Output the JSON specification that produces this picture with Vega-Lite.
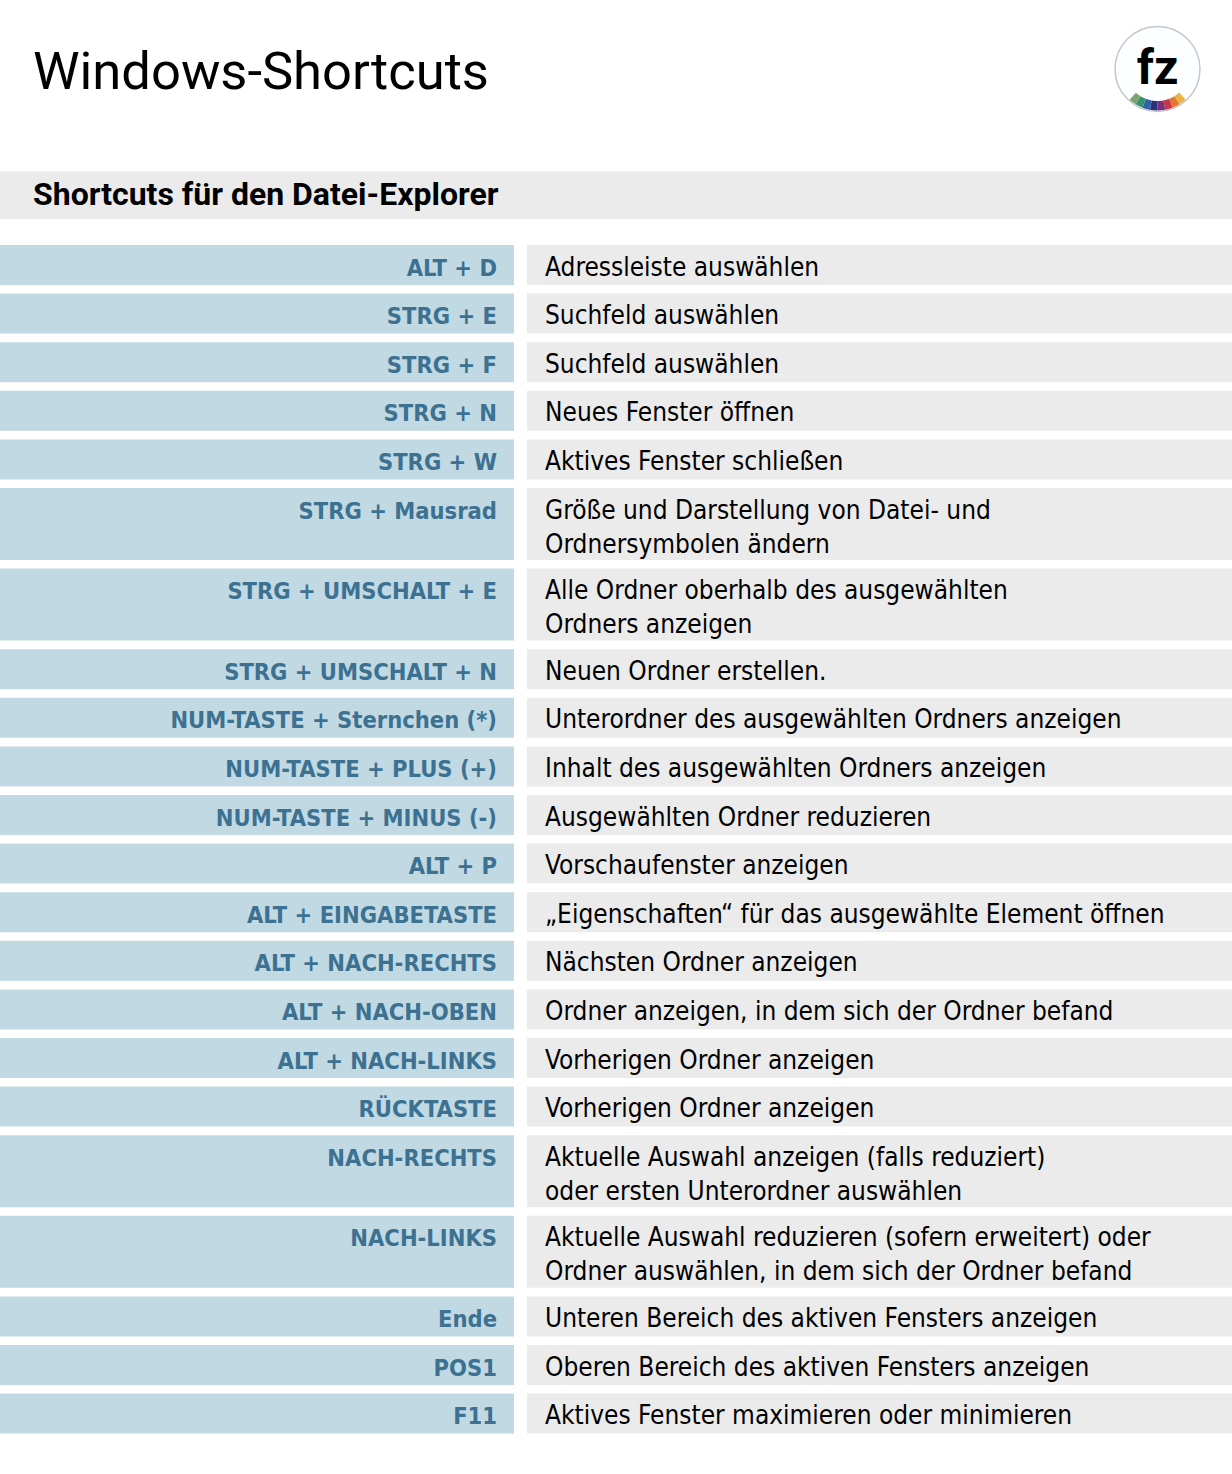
{
  "$schema": "https://vega.github.io/schema/vega-lite/v6.json",
  "width": 1232,
  "height": 1474,
  "autosize": {"type": "fit", "contains": "padding"},
  "padding": 0,
  "background": "#ffffff",
  "config": {"view": {"stroke": null}},
  "datasets": {
    "rows": [
      {"n": 1, "key": "ALT + D", "desc": "Adressleiste auswählen"},
      {"n": 2, "key": "STRG + E", "desc": "Suchfeld auswählen"},
      {"n": 3, "key": "STRG + F", "desc": "Suchfeld auswählen"},
      {"n": 4, "key": "STRG + N", "desc": "Neues Fenster öffnen"},
      {"n": 5, "key": "STRG + W", "desc": "Aktives Fenster schließen"},
      {"n": 6, "key": "STRG + Mausrad", "desc": "Größe und Darstellung von Datei- und\nOrdnersymbolen ändern"},
      {"n": 7, "key": "STRG + UMSCHALT + E", "desc": "Alle Ordner oberhalb des ausgewählten\nOrdners anzeigen"},
      {"n": 8, "key": "STRG + UMSCHALT + N", "desc": "Neuen Ordner erstellen."},
      {"n": 9, "key": "NUM-TASTE + Sternchen (*)", "desc": "Unterordner des ausgewählten Ordners anzeigen"},
      {"n": 10, "key": "NUM-TASTE + PLUS (+)", "desc": "Inhalt des ausgewählten Ordners anzeigen"},
      {"n": 11, "key": "NUM-TASTE + MINUS (-)", "desc": "Ausgewählten Ordner reduzieren"},
      {"n": 12, "key": "ALT + P", "desc": "Vorschaufenster anzeigen"},
      {"n": 13, "key": "ALT + EINGABETASTE", "desc": "„Eigenschaften“ für das ausgewählte Element öffnen"},
      {"n": 14, "key": "ALT + NACH-RECHTS", "desc": "Nächsten Ordner anzeigen"},
      {"n": 15, "key": "ALT + NACH-OBEN", "desc": "Ordner anzeigen, in dem sich der Ordner befand"},
      {"n": 16, "key": "ALT + NACH-LINKS", "desc": "Vorherigen Ordner anzeigen"},
      {"n": 17, "key": "RÜCKTASTE", "desc": "Vorherigen Ordner anzeigen"},
      {"n": 18, "key": "NACH-RECHTS", "desc": "Aktuelle Auswahl anzeigen (falls reduziert)\noder ersten Unterordner auswählen"},
      {"n": 19, "key": "NACH-LINKS", "desc": "Aktuelle Auswahl reduzieren (sofern erweitert) oder\nOrdner auswählen, in dem sich der Ordner befand"},
      {"n": 20, "key": "Ende", "desc": "Unteren Bereich des aktiven Fensters anzeigen"},
      {"n": 21, "key": "POS1", "desc": "Oberen Bereich des aktiven Fensters anzeigen"},
      {"n": 22, "key": "F11", "desc": "Aktives Fenster maximieren oder minimieren"}
    ],
    "stripes": [
      {"i": 1, "w": 1, "c": "#e9b544"},
      {"i": 2, "w": 1, "c": "#e2782f"},
      {"i": 3, "w": 1, "c": "#c6364f"},
      {"i": 4, "w": 1, "c": "#7c2f7c"},
      {"i": 5, "w": 1, "c": "#2b3479"},
      {"i": 6, "w": 1, "c": "#2e62a6"},
      {"i": 7, "w": 1, "c": "#379070"},
      {"i": 8, "w": 1, "c": "#79a66c"}
    ]
  },
  "layer": [
    {
      "data": {"values": [{"label": "Shortcuts für den Datei-Explorer"}]},
      "mark": {"type": "rect", "color": "#ebebeb"},
      "encoding": {
        "x": {"datum": 0, "type": "quantitative", "scale": {"domain": [0, 1232], "nice": false, "zero": false}, "axis": null},
        "x2": {"datum": 1232},
        "y": {"datum": 171.5, "type": "quantitative", "scale": {"domain": [0, 1474], "nice": false, "zero": false, "reverse": true}, "axis": null},
        "y2": {"datum": 219}
      }
    },
    {
      "data": {"values": [{"label": "Shortcuts für den Datei-Explorer"}]},
      "mark": {"type": "text", "align": "left", "baseline": "alphabetic", "font": "Roboto", "fontWeight": "bold", "fontSize": 32, "color": "#000000"},
      "encoding": {
        "x": {"datum": 33, "type": "quantitative"},
        "y": {"datum": 205, "type": "quantitative"},
        "text": {"field": "label", "type": "nominal"}
      }
    },
    {
      "data": {"values": [{"label": "Windows-Shortcuts"}]},
      "mark": {"type": "text", "align": "left", "baseline": "alphabetic", "font": "Roboto", "fontWeight": "normal", "fontSize": 52.5, "color": "#000000"},
      "encoding": {
        "x": {"datum": 33, "type": "quantitative"},
        "y": {"datum": 88.5, "type": "quantitative"},
        "text": {"field": "label", "type": "nominal"}
      }
    },
    {
      "data": {"values": [{"label": "fz"}]},
      "mark": {"type": "point", "shape": "circle", "size": 7225, "filled": true, "fill": "#fdfeff", "stroke": "#c3c7cf", "strokeWidth": 1.5, "opacity": 1},
      "encoding": {
        "x": {"datum": 1157.5, "type": "quantitative"},
        "y": {"datum": 69, "type": "quantitative"}
      }
    },
    {
      "data": {"name": "stripes"},
      "mark": {"type": "arc", "innerRadius": 32, "outerRadius": 41.5},
      "encoding": {
        "x": {"datum": 1157.5, "type": "quantitative"},
        "y": {"datum": 69, "type": "quantitative"},
        "theta": {"field": "w", "type": "quantitative", "stack": true, "scale": {"domain": [0, 8], "range": [2.4, 3.88]}},
        "order": {"field": "i", "type": "quantitative"},
        "color": {"field": "c", "type": "nominal", "scale": null}
      }
    },
    {
      "data": {"values": [{"label": "fz"}]},
      "mark": {"type": "text", "align": "center", "baseline": "alphabetic", "font": "Roboto", "fontWeight": "bold", "fontSize": 48, "color": "#000000"},
      "encoding": {
        "x": {"datum": 1157.5, "type": "quantitative"},
        "y": {"datum": 84, "type": "quantitative"},
        "text": {"field": "label", "type": "nominal"}
      }
    },
    {
      "data": {"name": "rows"},
      "transform": [
        {"calculate": "split(datum.desc, '\\n').length", "as": "lines"},
        {"calculate": "40 + 32 * (datum.lines - 1) + 8.6", "as": "pitch"},
        {"window": [{"op": "sum", "field": "pitch", "as": "cum"}], "sort": [{"field": "n", "order": "ascending"}], "frame": [null, 0]},
        {"calculate": "245 + datum.cum - datum.pitch", "as": "top"},
        {"calculate": "datum.top + datum.pitch - 8.6", "as": "bottom"},
        {"calculate": "datum.top + 30.5", "as": "base"}
      ],
      "layer": [
        {
          "mark": {"type": "rect", "color": "#c1d9e2"},
          "encoding": {
            "x": {"datum": 0, "type": "quantitative"},
            "x2": {"datum": 514},
            "y": {"field": "top", "type": "quantitative"},
            "y2": {"field": "bottom"}
          }
        },
        {
          "mark": {"type": "rect", "color": "#ebebeb"},
          "encoding": {
            "x": {"datum": 527, "type": "quantitative"},
            "x2": {"datum": 1232},
            "y": {"field": "top", "type": "quantitative"},
            "y2": {"field": "bottom"}
          }
        },
        {
          "mark": {"type": "text", "align": "right", "baseline": "alphabetic", "font": "DejaVu Sans Condensed", "fontWeight": "bold", "fontSize": 23.5, "color": "#3c7192"},
          "encoding": {
            "x": {"datum": 497, "type": "quantitative"},
            "y": {"field": "base", "type": "quantitative"},
            "text": {"field": "key", "type": "nominal"}
          }
        },
        {
          "mark": {"type": "text", "align": "left", "baseline": "alphabetic", "font": "DejaVu Sans Condensed", "fontWeight": "normal", "fontSize": 26, "lineBreak": "\n", "lineHeight": 34, "color": "#000000"},
          "encoding": {
            "x": {"datum": 545, "type": "quantitative"},
            "y": {"field": "base", "type": "quantitative"},
            "text": {"field": "desc", "type": "nominal"}
          }
        }
      ]
    }
  ]
}
